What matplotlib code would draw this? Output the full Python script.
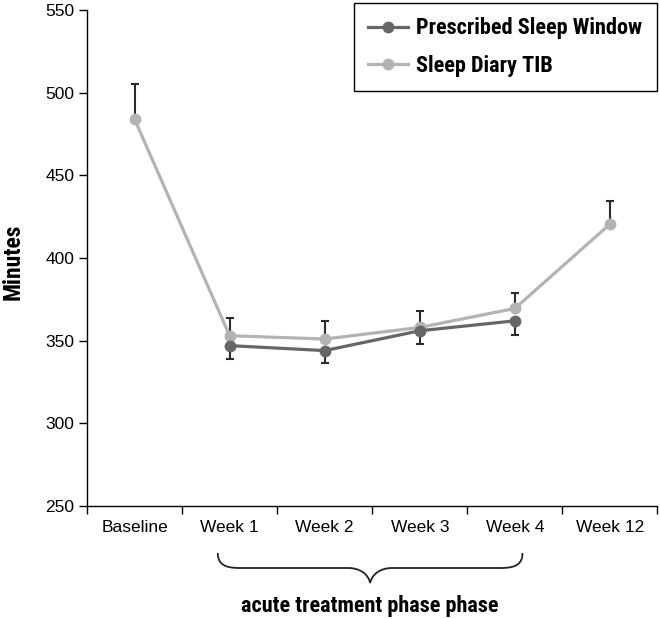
import matplotlib.pyplot as plt
import numpy as np
from matplotlib.path import Path
from matplotlib.patches import PathPatch
from matplotlib import transforms
from matplotlib import font_manager

categorias = ["Baseline", "Week 1", "Week 2", "Week 3", "Week 4", "Week 12"]
ventana_prescrita = [np.nan, 347, 344, 356, 362, np.nan]
ventana_err_inf = [0, 8.3, 7.6, 8.0, 8.5, 0]
diario_tib = [484, 353, 351, 358, 369.5, 420.5]
diario_err_sup = [21, 10.5, 10.8, 9.7, 9.2, 14]
etiqueta_fase = "acute treatment phase phase"

nombres = {f.name for f in font_manager.fontManager.ttflist}
narrow = next((n for n in ["Liberation Sans Narrow", "Arial Narrow", "Roboto Condensed",
                           "Archivo Narrow", "Barlow Semi Condensed"] if n in nombres),
              "Liberation Sans")
plt.rcParams["font.family"] = ["Liberation Sans", "DejaVu Sans"]

OSCURO = "#666666"
CLARO = "#b3b3b3"
ERR = "#2b2b2b"

fig = plt.figure(figsize=(6.6, 6.19), dpi=100)
ax = fig.add_axes([87 / 660, 1 - 506 / 619, 570.5 / 660, 496 / 619])

x = np.arange(len(categorias))
tib = np.array(diario_tib)
psw = np.array(ventana_prescrita)

# barras de error de un solo lado (hacia arriba TIB, hacia abajo ventana)
ax.vlines(x, tib, tib + np.array(diario_err_sup), color=ERR, lw=1.5, zorder=1)
ax.plot(x, tib + np.array(diario_err_sup), ls="none", marker="_", ms=6,
        mew=1.5, color=ERR, zorder=1)
ok = ~np.isnan(psw)
ax.vlines(x[ok], psw[ok] - np.array(ventana_err_inf)[ok], psw[ok], color=ERR, lw=1.5, zorder=1)
ax.plot(x[ok], psw[ok] - np.array(ventana_err_inf)[ok], ls="none", marker="_", ms=6,
        mew=1.5, color=ERR, zorder=1)

ax.plot(x, psw, color=OSCURO, lw=2.3, marker="o", ms=7.5,
        label="Prescribed Sleep Window", zorder=3)
ax.plot(x, tib, color=CLARO, lw=2.3, marker="o", ms=7.5,
        label="Sleep Diary TIB", zorder=2)

ax.set_xlim(-0.5, len(categorias) - 0.5)
ax.set_ylim(250, 550)
ax.set_yticks(np.arange(250, 551, 50))
ax.set_xticks(np.arange(-0.5, len(categorias)), labels=[""] * (len(categorias) + 1))
ax.set_xticks(x, labels=categorias, minor=True)
ax.tick_params(axis="x", which="minor", length=0, pad=10, labelsize=12.5)
ax.tick_params(axis="x", which="major", length=6, width=1, direction="out")
ax.tick_params(axis="y", length=6, width=1, direction="out", labelsize=12.5, pad=3)
for lado in ("top", "right"):
    ax.spines[lado].set_visible(False)
for lado in ("left", "bottom"):
    ax.spines[lado].set_linewidth(1)
for t in ax.get_xticklines():
    t.set_clip_on(False)

fig.text(2 / 660, 1 - 262 / 619, "Minutes", rotation=90, ha="left", va="center",
         fontsize=17, fontweight="bold", family=narrow)

# llave bajo las semanas de tratamiento
trans = transforms.blended_transform_factory(ax.transData, fig.transFigure)
x0, x1 = 0.876, 4.08
xm = (x0 + x1) / 2
yt = 1 - 553 / 619
yh = 1 - 568 / 619
yp = 1 - 583 / 619
r = 0.23
dy = 6 / 619
verts = [(x0, yt), (x0, yh + 0.3 * (yt - yh)), (x0 + 0.06, yh), (x0 + r, yh),
         (xm - r, yh), (xm - r + 0.12, yh), (xm - 0.02, yh - dy), (xm, yp),
         (xm + 0.02, yh - dy), (xm + r - 0.12, yh), (xm + r, yh),
         (x1 - r, yh), (x1 - 0.06, yh), (x1, yh + 0.3 * (yt - yh)), (x1, yt)]
codes = [Path.MOVETO, Path.CURVE4, Path.CURVE4, Path.CURVE4,
         Path.LINETO, Path.CURVE4, Path.CURVE4, Path.CURVE4,
         Path.CURVE4, Path.CURVE4, Path.CURVE4,
         Path.LINETO, Path.CURVE4, Path.CURVE4, Path.CURVE4]
llave = PathPatch(Path(verts, codes), transform=trans, fill=False, lw=1.3,
                  edgecolor="#222222", clip_on=False)
ax.add_patch(llave)
fig.text(370 / 660, 1 - 606 / 619, etiqueta_fase, ha="center", va="center",
         fontsize=16, fontweight="bold", family=narrow)

leg = fig.legend(loc="upper right", bbox_to_anchor=(656.5 / 660, 1 - 3 / 619),
                 frameon=True, fancybox=False, edgecolor="black", framealpha=1,
                 prop={"family": narrow, "weight": "bold", "size": 16},
                 handlelength=1.8, borderpad=0.65, labelspacing=0.7,
                 handletextpad=0.35, borderaxespad=0)
leg.get_frame().set_linewidth(1)

fig.savefig("out.png", dpi=100)
